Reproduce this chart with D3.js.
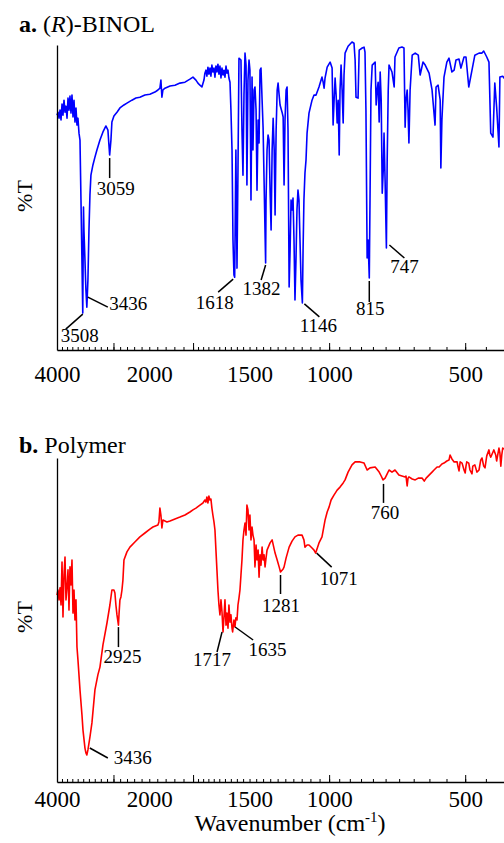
<!DOCTYPE html>
<html>
<head>
<meta charset="utf-8">
<script src="https://cdn.jsdelivr.net/npm/d3@7"></script>
<style>
  body { margin: 0; background: #fff; }
  text { font-family: "Liberation Serif", "Times New Roman", serif; fill: #000; }
</style>
</head>
<body>
<div id="chart"></div>
<script>
// [wavenumber (cm-1), %T]
const binolSpectrum = [
  [4000,78.3],[3980,79.3],[3959,77.3],[3939,80],[3919,76.7],[3899,82],[3880,78.3],[3860,83.3],[3840,79.3],[3821,81.3],
  [3801,77.3],[3782,84],[3763,80],[3744,84.7],[3725,79],[3706,85],[3687,77.7],[3668,83.3],[3650,76],[3631,80.7],
  [3613,75],[3595,77.3],[3576,72.3],[3558,70],[3540,50],[3508,12.3],[3495,47.7],[3487,40],[3469,30],[3452,20],
  [3436,14.3],[3417,23.3],[3399,40],[3382,51.7],[3365,58.3],[3331,61.7],[3297,64.3],[3264,66.7],[3214,70],[3165,72.7],
  [3117,74.7],[3086,73.3],[3070,68.3],[3059,65],[3039,70],[3024,76],[2993,78],[2947,79.3],[2903,80.7],[2844,81.7],
  [2801,82.3],[2731,83.3],[2676,84],[2622,84.3],[2556,85],[2492,85.3],[2429,86],[2392,86.7],[2368,87.3],[2356,90],
  [2344,84.3],[2332,86.7],[2308,87.3],[2249,88],[2193,88.3],[2138,89],[2084,89.3],[2032,90.3],[2001,91],[1971,90],
  [1951,89],[1931,88.3],[1912,87.7],[1892,90],[1883,92.3],[1873,93.3],[1864,91.3],[1854,94.3],[1845,92],[1835,94],
  [1826,91.3],[1817,95],[1808,92.7],[1798,94],[1789,91],[1780,94.7],[1771,92.7],[1762,95.3],[1753,92],[1744,94.7],
  [1735,90.7],[1726,94],[1717,91.7],[1709,93.3],[1700,91],[1691,94.7],[1683,92.3],[1674,93.3],[1666,90.7],[1657,89.3],
  [1649,80],[1640,66.7],[1632,36.7],[1624,25],[1618,24.3],[1608,66.7],[1599,27.3],[1591,60],[1583,97.3],[1567,96.7],
  [1559,73.3],[1551,58.3],[1543,85],[1535,99],[1527,95],[1520,55],[1512,90],[1504,96.7],[1497,93.3],[1489,50],
  [1481,91],[1474,66.7],[1466,86.7],[1459,87.7],[1451,80],[1444,53.3],[1436,76.7],[1429,69],[1422,93.3],[1415,94],
  [1407,83.3],[1400,74.3],[1393,56.7],[1382,29],[1379,50],[1372,66.7],[1365,71.7],[1358,70],[1351,53.3],[1344,40],
  [1337,66.7],[1330,77.3],[1323,66.7],[1317,45],[1310,73.3],[1303,86.7],[1297,89],[1290,85],[1284,81.7],[1271,79.3],
  [1264,77.7],[1258,55],[1252,76.7],[1245,86.7],[1239,87.7],[1233,73.3],[1226,21],[1220,33.3],[1214,50],[1208,46.7],
  [1202,50.7],[1196,36.7],[1190,16.7],[1184,30],[1178,46.7],[1172,53.3],[1166,50],[1160,36.7],[1154,23.3],[1146,15.7],
  [1142,33.3],[1137,50],[1131,59],[1125,63.3],[1119,72.3],[1108,79],[1091,83.3],[1080,85],[1069,85],[1053,87.7],
  [1037,91],[1031,89.3],[1026,87.3],[1021,90.7],[1010,94.3],[995,96],[985,94],[980,75],[975,83.3],[970,90.7],
  [965,85],[960,75.7],[955,83.3],[950,65],[946,86.7],[941,95],[936,86.7],[931,75.7],[927,91.7],[922,99],
  [908,101.3],[890,102.7],[881,102.3],[876,96.7],[872,84.3],[863,84],[858,100],[845,100.7],[837,101],[833,99.3],
  [829,80],[824,30.7],[820,36.7],[815,24],[812,50],[808,86.7],[803,95],[791,96],[787,81.7],[783,86.7],
  [779,89.3],[775,76],[771,92.7],[767,83.3],[763,52.3],[759,60],[756,72.3],[752,56.7],[747,34],[744,63.3],
  [740,86.7],[737,95],[726,92.7],[718,87.7],[715,97.7],[701,100.7],[690,101],[683,100.7],[679,74.3],[676,83.3],
  [672,86.7],[669,80],[666,69],[662,86.7],[655,98.3],[645,99],[635,98.3],[629,91.7],[620,96],[613,95],
  [601,92.3],[592,86.7],[583,75],[580,87.7],[574,88.3],[568,83.3],[566,60.7],[563,76.7],[557,91],[549,96],
  [543,97.3],[535,92.7],[529,93.3],[524,96.7],[516,97],[511,94],[503,97.7],[498,97.7],[491,87.7],[483,93.3],
  [476,98.3],[466,99],[459,99],[455,99.7],[448,97.7],[443,96],[439,72.3],[434,71],[430,89],[426,81],
  [421,67.7],[419,91],[413,91.3],[407,90]
];

const polymerSpectrum = [
  [4000,62.3],[3980,64],[3959,60.7],[3939,64.7],[3919,59],[3899,73.3],[3880,55],[3860,69],[3840,75],[3821,60.7],
  [3801,65],[3782,70.7],[3763,57.3],[3744,71.7],[3725,65.7],[3706,74],[3687,56.3],[3668,64],[3650,54],[3631,60.7],
  [3613,45],[3595,40.7],[3558,30.7],[3522,22.3],[3504,17.3],[3469,11.3],[3452,9.7],[3436,9],[3417,10.7],[3382,15],
  [3348,19.7],[3297,30.7],[3248,35.7],[3214,38.3],[3165,45.7],[3101,53],[3055,59],[3024,64],[2993,64],[2978,63],
  [2963,59],[2947,55.7],[2925,52.3],[2917,55.7],[2903,60.7],[2888,61.7],[2873,64],[2859,67.3],[2844,74],[2801,76.7],
  [2759,78.3],[2690,80],[2622,81.7],[2556,83],[2492,84.3],[2454,85],[2392,85.7],[2380,86.7],[2368,91.3],[2356,89],
  [2344,84.7],[2332,87.3],[2308,87],[2285,86.7],[2249,87],[2193,87.7],[2138,88.3],[2084,89],[2032,90],[2001,90.7],
  [1971,91.3],[1931,92.3],[1902,93],[1883,94],[1873,93.3],[1864,95],[1854,93],[1845,95.3],[1835,94],[1826,94.3],
  [1817,91.3],[1808,89],[1798,86.7],[1789,84],[1780,77.3],[1771,70.7],[1762,64],[1753,59],[1744,55.7],[1735,60.7],
  [1726,56.7],[1717,50],[1709,54.7],[1700,60.7],[1691,52.3],[1683,56.3],[1674,51.3],[1666,59],[1657,53.3],[1649,55.7],
  [1640,51.3],[1635,50],[1624,54],[1616,51.7],[1608,54.7],[1599,54],[1591,59],[1583,61.3],[1575,64],[1567,69],
  [1559,74],[1551,80.7],[1543,84],[1535,86.3],[1527,82.3],[1520,92.3],[1512,90.7],[1504,84],[1497,89],[1489,80.7],
  [1481,85],[1474,82.3],[1466,80.7],[1459,71.7],[1451,79],[1444,74],[1436,77.3],[1429,68.3],[1422,75.7],[1415,72.3],
  [1407,78.3],[1400,74],[1393,75.7],[1386,71.7],[1379,74.7],[1372,77.3],[1351,79.7],[1337,80.7],[1317,76.3],[1303,74],
  [1290,71.7],[1281,70],[1264,71],[1258,71.7],[1245,74.7],[1226,78.3],[1208,80.3],[1190,81.7],[1172,82.3],[1148,82.3],
  [1137,80.7],[1131,78.3],[1119,79],[1108,79],[1091,78],[1080,77.3],[1071,76.3],[1053,79.7],[1037,81.7],[1021,87.3],
  [1010,90],[1000,91.7],[990,94],[975,95.7],[960,97.3],[946,98.3],[931,99.7],[922,100.7],[908,103.3],[890,105.7],
  [876,106.7],[854,106.7],[837,106.3],[824,104],[812,104.7],[791,105],[775,103.3],[767,102],[760,100.7],[752,101.3],
  [744,102.7],[737,104],[726,103.3],[715,104],[701,102.3],[690,102],[679,101.7],[676,102],[672,98.7],[669,101.3],
  [666,101.7],[655,101],[645,100.7],[635,101.3],[623,101.3],[616,100.3],[610,101.3],[601,102.3],[592,103.3],[586,104],
  [577,105],[571,105],[563,106],[557,106.3],[549,107],[543,107.3],[540,109],[535,107.7],[529,106.7],[521,106.7],
  [519,105.3],[516,103.7],[513,106.7],[508,106.3],[503,104],[500,103],[498,105.3],[496,106.7],[491,106.3],[488,104],
  [483,102.7],[481,105.3],[476,105.7],[471,103.3],[466,104],[462,107.3],[459,108],[455,105.3],[452,104.7],[448,108.7],
  [443,110.7],[441,109],[439,108.3],[434,110],[432,110.7],[428,109],[426,107],[421,111.3],[419,109.7],[417,105.3],
  [415,109],[413,111.3],[407,110.7]
];

// labelled bands
const binolPeaks = [3508, 3436, 3059, 1618, 1382, 1146, 815, 747];
const polymerPeaks = [3436, 2925, 1717, 1635, 1281, 1071, 760];

// x axis
const tickValues = [4000, 2500, 1500, 1000, 500];
const tickLabels = ["4000", "2000", "1500", "1000", "500"];
const majorTicks = [3000, 2000, 1000, 500];
const minorTicks = d3.range(4000, 2000, -100).concat(d3.range(2000, 399, -50));

// leader line [x1, y1, x2, y2] and label [x, y], offsets in px from the band minimum
const binolLayout = [
  { line: [0, 1, -17, 16], text: [-3, 29] },
  { line: [1, -10, 21, 0], text: [41.5, 3] },
  { line: [0, 3, 0, 23], text: [6, 40] },
  { line: [-1.5, 2, -16.5, 15], text: [-20, 32] },
  { line: [0, 2, -4.5, 17], text: [-4, 32] },
  { line: [2, 1, 17, 14], text: [16, 29] },
  { line: [0, 3, 0, 24], text: [1, 37] },
  { line: [3, -3, 18, 10], text: [18, 25] }
];
const polymerLayout = [
  { line: [3, -7, 21, 3], text: [46, 9] },
  { line: [0, 2, 0, 22], text: [4, 38] },
  { line: [-1, 0, -6, 20], text: [-11, 34] },
  { line: [2.5, -5, 20.5, 8], text: [35, 24] },
  { line: [0, 3, 0, 22], text: [0.5, 40] },
  { line: [1, 0, 16, 14], text: [23, 32] },
  { line: [0.5, 4, 0.5, 23], text: [2, 39] }
];

const width = 504, height = 843;
const svg = d3.select("#chart").append("svg")
  .attr("width", width).attr("height", height)
  .attr("viewBox", `0 0 ${width} ${height}`);

const x = d3.scaleLog().domain([4000, 400]).range([57, 509]);

const panels = [
  { data: binolSpectrum, peaks: binolPeaks, layout: binolLayout, color: "#0000ff",
    y: d3.scaleLinear().domain([0, 101.7]).range([350, 45]),
    tag: "a.", title: [["(", "normal"], ["R", "italic"], [")-BINOL", "normal"]],
    titleY: 32, yLabelY: 196, tickPad: 16 },
  { data: polymerSpectrum, peaks: polymerPeaks, layout: polymerLayout, color: "#ff0000",
    y: d3.scaleLinear().domain([0, 108]).range([782, 458]),
    tag: "b.", title: [["Polymer", "normal"]],
    titleY: 453, yLabelY: 617, tickPad: 9 }
];

panels.forEach(p => {
  const g = svg.append("g");
  const bottom = p.y.range()[0];

  // spectrum
  g.append("path")
    .datum(p.data)
    .attr("fill", "none")
    .attr("stroke", p.color)
    .attr("stroke-width", 1.6)
    .attr("stroke-linejoin", "round")
    .attr("d", d3.line().x(d => x(d[0])).y(d => p.y(d[1])));

  // left axis (no ticks)
  g.append("g")
    .attr("transform", `translate(${x(4000)},0)`)
    .call(d3.axisLeft(p.y).tickValues([]).tickSizeOuter(0))
    .select(".domain").attr("stroke-width", 1.3);

  // bottom axis: minor + major ticks pointing inward
  g.append("g")
    .attr("transform", `translate(0,${bottom})`)
    .call(d3.axisBottom(x).tickValues(minorTicks).tickSize(-3).tickFormat(""))
    .call(a => a.select(".domain").remove());
  g.append("g")
    .attr("transform", `translate(0,${bottom})`)
    .call(d3.axisBottom(x).tickValues(majorTicks).tickSize(-7).tickSizeOuter(0).tickFormat(""))
    .call(a => a.select(".domain").attr("stroke-width", 1.3));
  g.append("g")
    .attr("transform", `translate(0,${bottom})`)
    .call(d3.axisBottom(x).tickValues(tickValues).tickSize(0).tickPadding(p.tickPad)
      .tickFormat((d, i) => tickLabels[i]))
    .call(a => a.select(".domain").remove())
    .selectAll("text")
    .style("font-size", "23px")
    .style("font-family", '"Liberation Serif", serif');

  // y label
  g.append("text")
    .attr("transform", `translate(32,${p.yLabelY}) rotate(-90)`)
    .attr("text-anchor", "middle")
    .style("font-size", "22px")
    .text("%T");

  // panel title
  const t = g.append("text")
    .attr("x", 19).attr("y", p.titleY)
    .style("font-size", "24px");
  t.append("tspan").style("font-weight", "bold").text(p.tag + " ");
  p.title.forEach(([s, st]) => t.append("tspan").style("font-style", st).text(s));

  // peak annotations
  p.peaks.forEach((wn, i) => {
    const pt = p.data.reduce((a, b) => Math.abs(b[0] - wn) < Math.abs(a[0] - wn) ? b : a);
    const px = x(pt[0]), py = p.y(pt[1]);
    const L = p.layout[i];
    g.append("line")
      .attr("x1", px + L.line[0]).attr("y1", py + L.line[1])
      .attr("x2", px + L.line[2]).attr("y2", py + L.line[3])
      .attr("stroke", "#000").attr("stroke-width", 1.5);
    g.append("text")
      .attr("x", px + L.text[0]).attr("y", py + L.text[1])
      .attr("text-anchor", "middle")
      .style("font-size", "19px")
      .text(wn);
  });
});

// shared x label
const xl = svg.append("text")
  .attr("x", 290).attr("y", 831)
  .attr("text-anchor", "middle")
  .style("font-size", "24px");
xl.append("tspan").text("Wavenumber (cm");
xl.append("tspan").attr("dy", -9).style("font-size", "15px").text("-1");
xl.append("tspan").attr("dy", 9).text(")");
</script>
</body>
</html>
